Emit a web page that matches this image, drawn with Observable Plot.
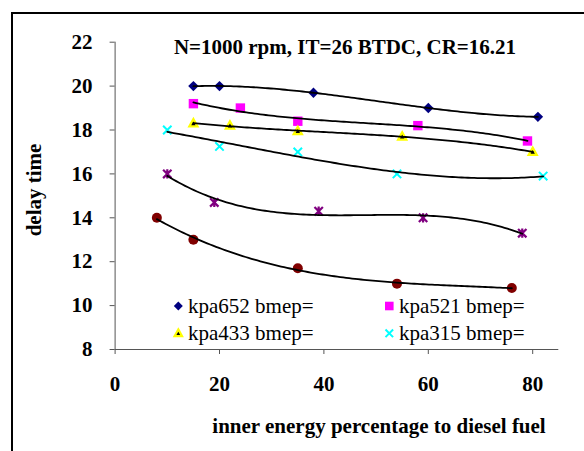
<!DOCTYPE html>
<html>
<head>
<meta charset="utf-8">
<script src="https://cdn.jsdelivr.net/npm/d3@7"></script>
<script src="https://cdn.jsdelivr.net/npm/@observablehq/plot@0.6"></script>
<style>
  html, body { margin: 0; padding: 0; background: #fff; overflow: hidden; }
  #wrap { position: relative; width: 584px; height: 451px; overflow: hidden; }
  #frame { position: absolute; left: 11px; top: 12px; width: 620px; height: 500px; border: 2px solid #000; box-sizing: border-box; }
  #chart { position: absolute; left: 0; top: 0; }
</style>
</head>
<body>
<div id="wrap"><div id="frame"></div><div id="chart"></div></div>
<script>
// ---- data ----
const titleText = "N=1000 rpm, IT=26 BTDC, CR=16.21";
const xLabel = "inner energy percentage to diesel fuel";
const yLabel = "delay time";
const xTicks = [0, 20, 40, 60, 80];
const yTicks = [8, 10, 12, 14, 16, 18, 20, 22];

const seriesNames = ["kpa652 bmep=", "kpa521 bmep=", "kpa433 bmep=", "kpa315 bmep=", "series5", "series6"];
const x652 = [15, 20, 38, 60, 81];
const y652 = [20, 20, 19.7, 19.0, 18.6];
const x521 = [15, 24, 35, 58, 79];
const y521 = [19.2, 19.0, 18.4, 18.2, 17.5];
const x433 = [15, 22, 35, 55, 80];
const y433 = [18.3, 18.2, 17.95, 17.7, 17.0];
const x315 = [10, 20, 35, 54, 82];
const y315 = [18.0, 17.25, 17.0, 16.0, 15.9];
const x5 = [10, 19, 39, 59, 78];
const y5 = [16.0, 14.7, 14.3, 14.0, 13.3];
const x6 = [8, 15, 35, 54, 76];
const y6 = [14.0, 13.0, 11.7, 11.0, 10.8];
const legendNames = ["kpa652 bmep=", "kpa521 bmep=", "kpa433 bmep=", "kpa315 bmep="];

// ---- symbols (Excel-like markers) ----
const sz = s => Math.sqrt(s / Math.PI);
const symDiamond = {draw(c, s) { const r = sz(s); c.moveTo(0, -r); c.lineTo(r, 0); c.lineTo(0, r); c.lineTo(-r, 0); c.closePath(); }};
const symSquare = {draw(c, s) { const r = sz(s); c.rect(-r, -r, 2 * r, 2 * r); }};
const symTriangle = {draw(c, s) { const r = sz(s); c.moveTo(0, -r); c.lineTo(r * 0.95, r * 0.7); c.lineTo(-r * 0.95, r * 0.7); c.closePath(); }};
const symTimes = {draw(c, s) { const r = sz(s); c.moveTo(-r, -r); c.lineTo(r, r); c.moveTo(r, -r); c.lineTo(-r, r); }};
const symStar = {draw(c, s) { const r = sz(s); c.moveTo(-r, -r); c.lineTo(r, r); c.moveTo(r, -r); c.lineTo(-r, r); c.moveTo(0, -r * 1.1); c.lineTo(0, r * 1.1); }};
const symCircle = {draw(c, s) { const r = sz(s); c.moveTo(r, 0); c.arc(0, 0, r, 0, 2 * Math.PI); }};

const styles = [
  {symbol: symDiamond, r: 5.2, fill: "#000080", stroke: "none", sw: 0},
  {symbol: symSquare, r: 4.7, fill: "#FF00FF", stroke: "none", sw: 0},
  {symbol: symTriangle, r: 4.3, fill: "#000000", stroke: "#FFFF00", sw: 2.2},
  {symbol: symTimes, r: 4.2, fill: "none", stroke: "#00FFFF", sw: 2},
  {symbol: symStar, r: 4.2, fill: "none", stroke: "#800080", sw: 2.2},
  {symbol: symCircle, r: 5, fill: "#800000", stroke: "none", sw: 0}
];

const xsAll = [x652, x521, x433, x315, x5, x6];
const ysAll = [y652, y521, y433, y315, y5, y6];

// cubic least-squares trendline (as Excel's polynomial order 3)
function cubicFit(xs, ys) {
  const n = 4, A = [], b = [];
  for (let i = 0; i < n; i++) {
    A.push([]);
    for (let j = 0; j < n; j++) A[i].push(d3.sum(xs, x => Math.pow(x / 100, i + j)));
    b.push(d3.sum(xs, (x, k) => ys[k] * Math.pow(x / 100, i)));
  }
  for (let i = 0; i < n; i++) {
    let p = i;
    for (let k = i + 1; k < n; k++) if (Math.abs(A[k][i]) > Math.abs(A[p][i])) p = k;
    [A[i], A[p]] = [A[p], A[i]]; [b[i], b[p]] = [b[p], b[i]];
    for (let k = i + 1; k < n; k++) {
      const f = A[k][i] / A[i][i];
      for (let j = i; j < n; j++) A[k][j] -= f * A[i][j];
      b[k] -= f * b[i];
    }
  }
  const c = new Array(n).fill(0);
  for (let i = n - 1; i >= 0; i--) {
    let s = b[i];
    for (let j = i + 1; j < n; j++) s -= A[i][j] * c[j];
    c[i] = s / A[i][i];
  }
  return x => c[0] + c[1] * (x / 100) + c[2] * Math.pow(x / 100, 2) + c[3] * Math.pow(x / 100, 3);
}

const trend = [];
xsAll.forEach((xs, si) => {
  const f = cubicFit(xs, ysAll[si]);
  const lo = d3.min(xs), hi = d3.max(xs);
  d3.range(0, 121).forEach(k => {
    const x = lo + (hi - lo) * k / 120;
    trend.push({series: seriesNames[si], x, y: f(x)});
  });
});

const dotMarks = xsAll.map((xs, si) => {
  const st = styles[si];
  const data = xs.map((x, k) => ({series: seriesNames[si], x, y: ysAll[si][k]}));
  return Plot.dot(data, {x: "x", y: "y", symbol: () => st.symbol, r: st.r, fill: st.fill, stroke: st.stroke, strokeWidth: st.sw});
});

const font = "'Liberation Serif', 'Times New Roman', Times, serif";

const chart = Plot.plot({
  width: 584,
  height: 451,
  marginLeft: 114.6,
  marginRight: 25.7,
  marginTop: 41.7,
  marginBottom: 102,
  x: {domain: [0, 85]},
  y: {domain: [8, 22]},
  style: {fontFamily: font, fontSize: "21px", fontWeight: "bold", color: "#000", background: "transparent", overflow: "visible"},
  marks: [
    Plot.axisY({ticks: yTicks, tickSize: 5, tickPadding: 17.5, label: null, stroke: "#555", fill: "#000", fontSize: 21, fontWeight: "bold"}),
    Plot.axisX({ticks: xTicks, tickSize: 5, tickPadding: 22, label: null, stroke: "#555", fill: "#000", fontSize: 21, fontWeight: "bold"}),
    Plot.ruleX([0], {stroke: "#555"}),
    Plot.ruleY([8], {stroke: "#555"}),
    ...dotMarks,
    Plot.line(trend, {x: "x", y: "y", z: "series", stroke: "#000", strokeWidth: 1.8, curve: "linear"})
  ]
});

document.getElementById("chart").appendChild(chart);

// chart furniture: title, axis titles, legend
const svg = d3.select(chart);
svg.append("text").attr("x", 345).attr("y", 53.6).attr("text-anchor", "middle")
  .attr("font-family", font).attr("font-size", 21).attr("font-weight", "bold").attr("fill", "#000").text(titleText);
svg.append("text").attr("x", 379).attr("y", 433).attr("text-anchor", "middle")
  .attr("font-family", font).attr("font-size", 21).attr("font-weight", "bold").attr("fill", "#000").text(xLabel);
svg.append("text").attr("transform", "translate(40.5,190) rotate(-90)").attr("text-anchor", "middle")
  .attr("font-family", font).attr("font-size", 21).attr("font-weight", "bold").attr("fill", "#000").text(yLabel);

const legPos = [[178.3, 306], [389.3, 306], [178.3, 333.3], [389.3, 333.3]];
const legR = [4.5, 4.3, 3.9, 3.8];
legendNames.forEach((name, i) => {
  const st = styles[i];
  const [lx, ly] = legPos[i];
  svg.append("path")
    .attr("d", d3.symbol(st.symbol, Math.PI * legR[i] * legR[i])())
    .attr("transform", `translate(${lx},${ly})`)
    .attr("fill", st.fill).attr("stroke", st.stroke).attr("stroke-width", st.sw);
  svg.append("text").attr("x", lx + 9.7).attr("y", ly + 6.5).attr("text-anchor", "start")
    .attr("font-family", font).attr("font-size", 21).attr("font-weight", "normal").attr("fill", "#000").text(name);
});
</script>
</body>
</html>
